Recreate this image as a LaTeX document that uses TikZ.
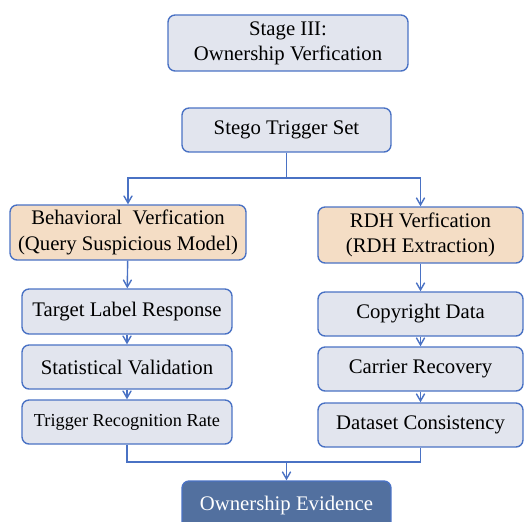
\documentclass[tikz,border=0pt]{standalone}
\usepackage{fontspec}
\setmainfont{Liberation Serif}
\usetikzlibrary{arrows}
\definecolor{bordc}{HTML}{4A72C4}
\definecolor{grayc}{HTML}{E2E5EE}
\definecolor{orgc}{HTML}{F4DDC5}
\definecolor{darkc}{HTML}{52709F}

\begin{document}
\begin{tikzpicture}[x=0.02cm,y=-0.02cm,
		box/.style={draw=bordc,fill=grayc,line width=0.8pt,rounded corners=4pt,
			align=center,inner sep=0pt,font=\fontsize{11.8}{14.4}\selectfont},
		obox/.style={box,fill=orgc},
		dbox/.style={box,fill=darkc,text=white},
		link/.style={draw=bordc,line width=0.8pt,>=angle 60}]
		\useasboundingbox (0,0) rectangle (527,521);
		\node[box,minimum width=4.8cm,minimum height=1.12cm] (stage) at (288,43) {Stage III:\\Ownership Verfication};
		\node[box,minimum width=4.18cm,minimum height=0.88cm] (trig) at (286.5,130) {Stego Trigger Set};
		\node[obox,minimum width=4.72cm,minimum height=1.1cm] (beh) at (128,232.5) {Behavioral\ \ Verfication\\(Query Suspicious Model)};
		\node[obox,minimum width=4.1cm,minimum height=1.12cm] (rdh) at (420.5,235) {RDH Verfication\\(RDH Extraction)};
		%
		\node[box,minimum width=4.2cm,minimum height=0.9cm] (tlr) at (127,311.5) {Target Label Response};
		\node[box,minimum width=4.2cm,minimum height=0.88cm] (stv) at (127,367) {Statistical Validation};
		\node[box,minimum width=4.2cm,minimum height=0.88cm,font=\fontsize{10.4}{12}\selectfont] (trr) at (127,422) {Trigger Recognition Rate};
		\node[box,minimum width=4.1cm,minimum height=0.88cm] (cpd) at (420.5,314) {Copyright Data};
		\node[box,minimum width=4.1cm,minimum height=0.88cm] (car) at (420.5,369) {Carrier Recovery};
		\node[box,minimum width=4.1cm,minimum height=0.88cm] (dsc) at (420.5,425) {Dataset Consistency};
		\node[dbox,minimum width=4.18cm,minimum height=0.98cm] (own) at (286.5,505.5) {Ownership Evidence};
		%
		\coordinate (split) at (286.5,178);
		\coordinate (merge) at (286.5,462);
		%
		% split
		\draw[link] (trig) -- (split);
		\draw[link,->] (split) -| (beh);
		\draw[link,->] (split) -| (rdh);
		% columns
		\draw[link,->] (beh) -- (tlr);
		\draw[link,->] (tlr) -- (stv);
		\draw[link,->] (stv) -- (trr);
		\draw[link,->] (rdh) -- (cpd);
		\draw[link,->] (cpd) -- (car);
		\draw[link,->] (car) -- (dsc);
		% merge
		\draw[link] (trr) |- (merge) -| (dsc);
		\draw[link,->] (merge) -- (own);
	\end{tikzpicture}
\end{document}
